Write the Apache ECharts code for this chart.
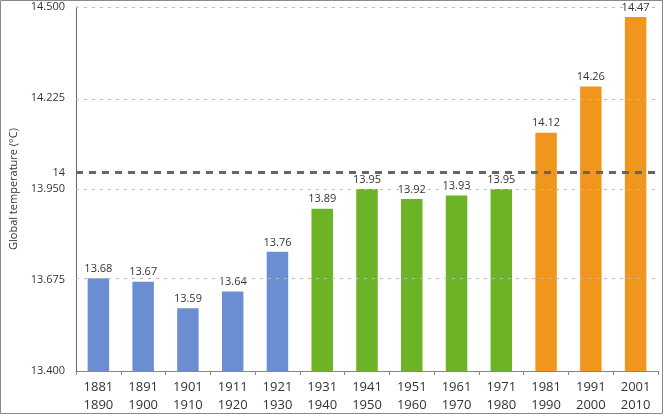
<!DOCTYPE html>
<html>
<head>
<meta charset="UTF-8">
<title>Global temperature by decade</title>
<script src="https://cdn.jsdelivr.net/npm/echarts@6/dist/echarts.min.js"></script>
<style>
  html, body { margin: 0; padding: 0; background: #fff; }
  #main { width: 663px; height: 414px; }
</style>
</head>
<body>
<div id="main"></div>
<script>
// decades
var decades = ['1881\n1890', '1891\n1900', '1901\n1910', '1911\n1920', '1921\n1930',
               '1931\n1940', '1941\n1950', '1951\n1960', '1961\n1970', '1971\n1980',
               '1981\n1990', '1991\n2000', '2001\n2010'];
// mean global temperature per decade (°C)
var temps = [13.68, 13.67, 13.59, 13.64, 13.76,
             13.89, 13.95, 13.92, 13.93, 13.95,
             14.12, 14.26, 14.47];
// colour group per bar: 0 blue, 1 green, 2 orange
var groups = [0, 0, 0, 0, 0, 1, 1, 1, 1, 1, 2, 2, 2];
var groupColors = ['#6b8ed3', '#6db326', '#f1961c'];
// y ticks
var yTicks = [13.4, 13.675, 13.95, 14.225, 14.5];
var refLine = 14;

var myChart = echarts.init(document.getElementById('main'));

var gridLines = yTicks.filter(function (v) { return v > 13.4; }).map(function (v) {
  return { yAxis: v, lineStyle: { color: '#bbb', type: [3, 5], width: 1 } };
});
gridLines.push({ yAxis: refLine, lineStyle: { color: '#666', type: [7, 6], width: 3 } });

var option = {
  animation: false,
  grid: { left: 67, right: 5, top: 7, bottom: 43, containLabel: false },
  graphic: [{
    type: 'rect', shape: { x: 0.5, y: 0.5, width: 662, height: 413 },
    style: { fill: null, stroke: '#888', lineWidth: 1 }, z: 100
  }],
  xAxis: {
    type: 'category',
    data: decades,
    axisLine: { lineStyle: { color: '#888', width: 1 } },
    axisTick: { show: true, length: 4, lineStyle: { color: '#888' } },
    axisLabel: { color: '#333', fontSize: 13, lineHeight: 18, margin: 7, fontFamily: 'Open Sans' }
  },
  yAxis: {
    type: 'value',
    min: 13.4,
    max: 14.5,
    name: 'Global temperature (°C)',
    nameLocation: 'middle',
    nameGap: 57,
    nameTextStyle: { color: '#333', fontSize: 11, fontFamily: 'Open Sans' },
    axisLine: { show: true, lineStyle: { color: '#666', width: 1 } },
    axisTick: { show: false },
    splitLine: { show: false },
    axisLabel: {
      color: '#333', fontSize: 11, fontFamily: 'Open Sans', margin: 11,
      customValues: yTicks.concat([refLine]),
      formatter: function (v) { return v === refLine ? '14' : v.toFixed(3); }
    }
  },
  series: [{
    type: 'bar',
    barWidth: '48%',
    data: temps.map(function (v, i) {
      return { value: v, itemStyle: { color: groupColors[groups[i]] } };
    }),
    label: {
      show: true, position: 'top', distance: 4, color: '#333', fontSize: 11,
      fontFamily: 'Open Sans',
      formatter: function (p) { return p.value.toFixed(2); }
    },
    markLine: {
      silent: true,
      symbol: 'none',
      label: { show: false },
      data: gridLines
    },
    z: 3
  }]
};
myChart.setOption(option);
</script>
</body>
</html>
